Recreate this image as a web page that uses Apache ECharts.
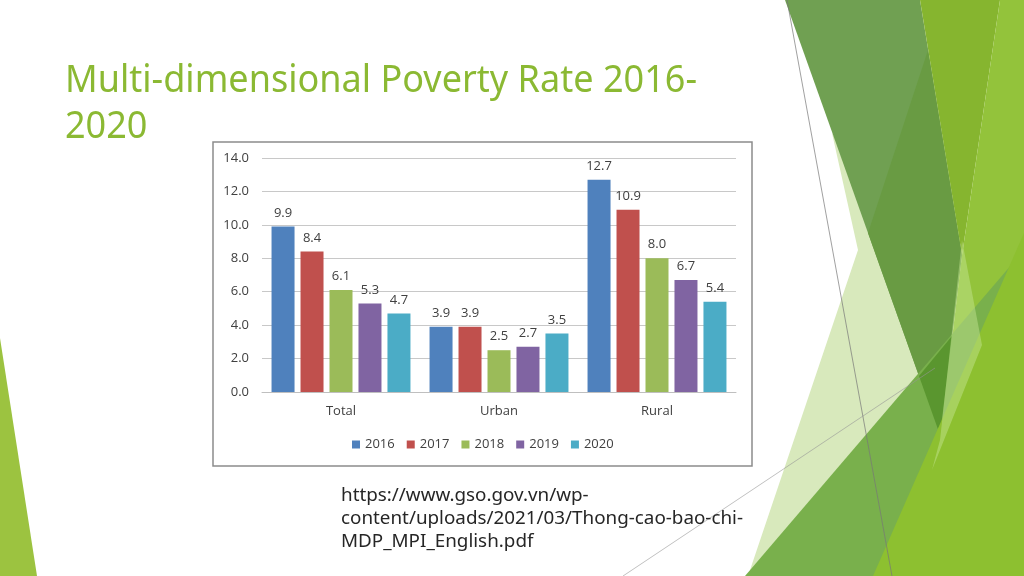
<!DOCTYPE html>
<html>
<head>
<meta charset="utf-8">
<script src="https://cdn.jsdelivr.net/npm/echarts@6/dist/echarts.min.js"></script>
<style>
html,body{margin:0;padding:0;background:#fff;}
#main{width:1024px;height:576px;}
</style>
</head>
<body>
<div id="main"></div>
<script>
// ---- data ----
const categories = ['Total', 'Urban', 'Rural'];
const years = ['2016', '2017', '2018', '2019', '2020'];
const v2016 = [9.9, 3.9, 12.7];
const v2017 = [8.4, 3.9, 10.9];
const v2018 = [6.1, 2.5, 8.0];
const v2019 = [5.3, 2.7, 6.7];
const v2020 = [4.7, 3.5, 5.4];
const seriesValues = [v2016, v2017, v2018, v2019, v2020];
const titleLines = ['Multi-dimensional Poverty Rate 2016-', '2020'];
const sourceLines = ['https://www.gso.gov.vn/wp-', 'content/uploads/2021/03/Thong-cao-bao-chi-', 'MDP_MPI_English.pdf'];

// ---- styles ----
const colors = ['#4F81BD', '#C0504D', '#9BBB59', '#8064A2', '#4BACC6'];
const mctx = document.createElement('canvas').getContext('2d');
function measure(text, font) { mctx.font = font; return mctx.measureText(text).width; }

const titleFont = '38px "Noto Sans"';
const titleScale = 632 / measure(titleLines[0], titleFont);
const srcFont = '18px "Noto Sans"';
const srcScale = 402 / measure(sourceLines[1], srcFont);

const chart = echarts.init(document.getElementById('main'), null, {renderer: 'canvas'});

function poly(points, fill, z) {
  return {type: 'polygon', silent: true, z: z || 0, shape: {points: points}, style: {fill: fill}};
}

const graphics = [
  // decorative facets
  poly([[0, 338], [37, 576], [0, 576]], '#9CC340'),
  poly([[832, 133], [858, 250], [748, 576], [1000, 576], [940, 300]], '#D8E9BC'),
  poly([[785, 0], [920, 0], [962, 255], [940, 435]], '#70A052'),
  poly([[928, 50], [868, 233], [940, 435], [962, 255]], '#699B43'),
  poly([[920, 0], [1000, 0], [962, 255]], '#86B52F'),
  poly([[1000, 0], [1024, 0], [1024, 576], [873, 576], [940, 440], [962, 255]], '#93C33B'),
  poly([[745, 576], [1024, 250], [1024, 576]], '#79B04C'),
  poly([[919, 376], [952, 336], [940, 435]], '#5A962F'),
  poly([[873, 576], [1024, 233], [1024, 576]], '#8DC030'),
  {type: 'polygon', silent: true, shape: {points: [[962, 240], [982, 345], [932, 470], [940, 440]]}, style: {fill: 'rgba(200,230,150,0.45)'}},
  {type: 'line', silent: true, shape: {x1: 787, y1: 0, x2: 892, y2: 576}, style: {stroke: 'rgba(120,120,120,0.7)', lineWidth: 1}},
  {type: 'line', silent: true, shape: {x1: 623, y1: 576, x2: 935, y2: 368}, style: {stroke: 'rgba(150,150,150,0.6)', lineWidth: 1}},
  // chart frame
  {type: 'rect', silent: true, shape: {x: 213, y: 142, width: 539, height: 324}, style: {fill: 'none', stroke: '#8C8C8C', lineWidth: 1.5}},
];
titleLines.forEach(function (t, i) {
  graphics.push({type: 'text', silent: true, x: 65, y: 81 + i * 46, scaleX: titleScale, originX: 0,
    style: {text: t, font: titleFont, fill: '#8BB933', verticalAlign: 'middle', align: 'left'}});
});
sourceLines.forEach(function (t, i) {
  graphics.push({type: 'text', silent: true, x: 341, y: 496 + i * 23, scaleX: srcScale, originX: 0,
    style: {text: t, font: srcFont, fill: '#262626', verticalAlign: 'middle', align: 'left'}});
});

const option = {
  backgroundColor: '#ffffff',
  animation: false,
  color: colors,
  textStyle: {fontFamily: '"Open Sans", sans-serif'},
  grid: {left: 262, right: 288, top: 158, bottom: 184, containLabel: false},
  legend: {
    data: years, left: 352, top: 438, padding: 0, itemWidth: 8, itemHeight: 8, itemGap: 12, icon: 'rect',
    textStyle: {fontSize: 13, color: '#404040', fontFamily: '"Open Sans", sans-serif'},
    selectedMode: false
  },
  xAxis: {
    type: 'category', data: categories,
    axisLine: {lineStyle: {color: '#BFBFBF'}},
    axisTick: {show: false},
    axisLabel: {color: '#404040', fontSize: 13, margin: 13}
  },
  yAxis: {
    type: 'value', min: 0, max: 14, interval: 2,
    axisLine: {show: false}, axisTick: {show: false},
    axisLabel: {color: '#404040', fontSize: 13, margin: 13, formatter: function (v) { return v.toFixed(1); }},
    splitLine: {lineStyle: {color: '#C8C8C8'}}
  },
  series: years.map(function (y, i) {
    return {
      name: y, type: 'bar', data: seriesValues[i], barWidth: 23, barGap: '26%',
      itemStyle: {color: colors[i]},
      label: {show: true, position: 'top', distance: 7, color: '#404040', fontSize: 13,
        formatter: function (p) { return p.value.toFixed(1); }}
    };
  }),
  graphic: {elements: graphics}
};
chart.setOption(option);
</script>
</body>
</html>
